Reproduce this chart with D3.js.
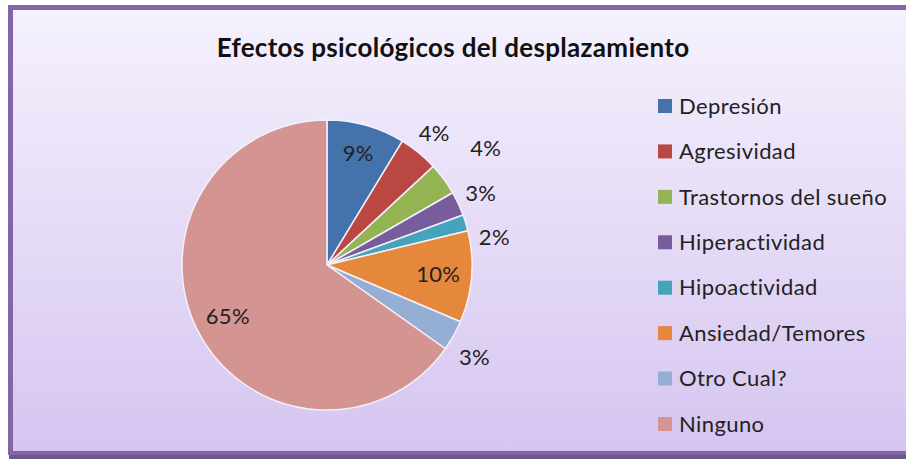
<!DOCTYPE html>
<html>
<head>
<meta charset="utf-8">
<script src="https://cdn.jsdelivr.net/npm/d3@7"></script>
<style>
  body { margin: 0; background: #ffffff; }
  svg { display: block; }
</style>
</head>
<body>
<svg id="chart" width="906" height="461"></svg>
<script>
const W = 906, H = 461;

// data
const categories = ["Depresión", "Agresividad", "Trastornos del sueño", "Hiperactividad",
                    "Hipoactividad", "Ansiedad/Temores", "Otro Cual?", "Ninguno"];
const values = [8.7, 4.4, 3.6, 2.7, 1.8, 10.2, 3.4, 65.2];
const colors = ["#4472aa", "#bb4743", "#94b454", "#775d9b", "#45a4bb", "#e6883c", "#95afd4", "#d49491"];
const title = "Efectos psicológicos del desplazamiento";

const svg = d3.select("#chart");
const FONT = "Lato, 'Open Sans', sans-serif";

// background + frame
const defs = svg.append("defs");
const bg = defs.append("linearGradient").attr("id", "bg")
    .attr("x1", 0).attr("y1", 0).attr("x2", 0).attr("y2", 1);
bg.append("stop").attr("offset", "0%").attr("stop-color", "#f5f1fd");
bg.append("stop").attr("offset", "100%").attr("stop-color", "#d6c5f0");

svg.append("rect").attr("x", 0).attr("y", 0).attr("width", W).attr("height", H).attr("fill", "#ffffff");
// shadow under frame
svg.append("rect").attr("x", 9).attr("y", 7).attr("width", W).attr("height", 452)
    .attr("fill", "#6b5a86");
svg.append("rect").attr("x", 8).attr("y", 5).attr("width", W).attr("height", 450)
    .attr("fill", "#8466a8");
svg.append("rect").attr("x", 13).attr("y", 10).attr("width", W).attr("height", 441)
    .attr("fill", "url(#bg)");

// title
svg.append("text")
    .attr("x", 453).attr("y", 57)
    .attr("text-anchor", "middle")
    .attr("font-family", FONT).attr("font-weight", "bold").attr("font-size", 26)
    .attr("letter-spacing", 0.3)
    .attr("fill", "#111")
    .text(title);

// pie
const cx = 327, cy = 265, r = 145;
const pie = d3.pie().sort(null).value(d => d)(values);
const arc = d3.arc().innerRadius(0).outerRadius(r);
const g = svg.append("g").attr("transform", `translate(${cx},${cy})`);

g.selectAll("path.slice").data(pie).enter()
    .append("path").attr("class", "slice")
    .attr("d", arc)
    .attr("fill", (d, i) => colors[i])
    .attr("stroke", "#f4f0fb").attr("stroke-width", 1.5).attr("stroke-linejoin", "round");

// labels: inside for big slices, outside (best fit) for small ones
const labelRadius = [0.8, 1.17, 1.36, 1.17, 1.17, 0.77, 1.2, 0.77];
const labelShift = [0, 0, 0, 0, 0.13, 0, 0.05, 0]; // radians, to dodge neighbours
const total = d3.sum(values);
g.selectAll("text.lbl").data(pie).enter()
    .append("text").attr("class", "lbl")
    .attr("x", (d, i) => Math.sin((d.startAngle + d.endAngle) / 2 + labelShift[i]) * r * labelRadius[i])
    .attr("y", (d, i) => -Math.cos((d.startAngle + d.endAngle) / 2 + labelShift[i]) * r * labelRadius[i])
    .attr("dy", "0.35em")
    .attr("text-anchor", "middle")
    .attr("font-family", FONT).attr("font-size", 22)
    .attr("letter-spacing", 0.3)
    .attr("fill", "#222")
    .text(d => Math.round(d.value / total * 100) + "%");

// legend
const legendY = d3.scalePoint().domain(categories).range([106, 424]);
const lg = svg.append("g");
const item = lg.selectAll("g").data(categories).enter().append("g")
    .attr("transform", d => `translate(658,${legendY(d)})`);
item.append("rect").attr("x", 0).attr("y", -7).attr("width", 14).attr("height", 14)
    .attr("fill", (d, i) => colors[i]);
item.append("text").attr("x", 21).attr("y", 0).attr("dy", "0.35em")
    .attr("font-family", FONT).attr("font-size", 22).attr("letter-spacing", 0.4)
    .attr("fill", "#222")
    .text(d => d);
</script>
</body>
</html>
